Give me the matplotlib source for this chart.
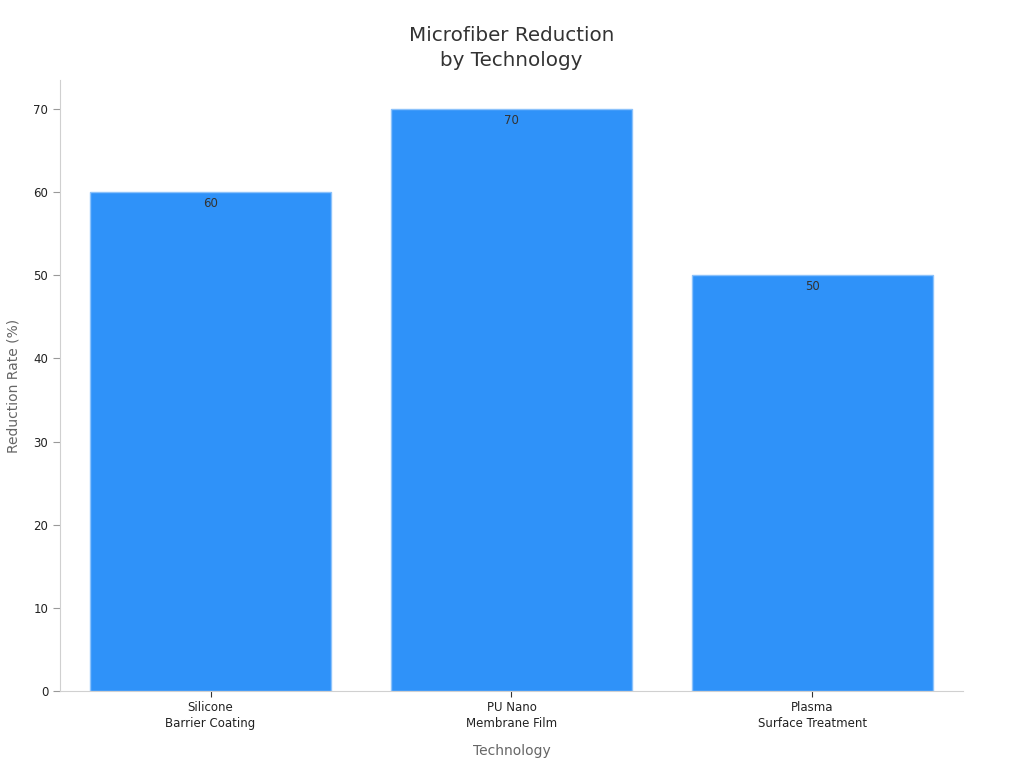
import matplotlib
matplotlib.use('Agg')
import matplotlib.pyplot as plt

categories = ['Silicone\nBarrier Coating', 'PU Nano\nMembrane Film', 'Plasma\nSurface Treatment']
reduction = [60, 70, 50]

fig = plt.figure(figsize=(10.24, 7.68), dpi=100)
ax = fig.add_axes([0.0586, 0.1003, 0.8818, 0.7955])

x = range(len(categories))
bars = ax.bar(x, reduction, width=0.8, color='#2f92f9', edgecolor='#8cc2fb', linewidth=1)

# value labels just inside the top of each bar
for b, v in zip(bars, reduction):
    ax.text(b.get_x() + b.get_width() / 2, v - 0.6, str(v), ha='center', va='top',
            fontsize=8.5, color='#333333')

ax.set_xlim(-0.5, 2.5)
ax.set_ylim(0, 73.5)
ax.set_xticks(list(x))
ax.set_xticklabels(categories, fontsize=8.5, color='#222222', linespacing=1.3)
ax.set_yticks(range(0, 71, 10))
ax.tick_params(axis='y', labelsize=8.5, labelcolor='#222222', color='#999999', length=5)
ax.tick_params(axis='x', color='#333333', length=4)

for s in ['top', 'right']:
    ax.spines[s].set_visible(False)
for s in ['left', 'bottom']:
    ax.spines[s].set_color('#d0d0d0')

ax.set_xlabel('Technology', fontsize=10, color='#666666', labelpad=10)
ax.set_ylabel('Reduction Rate (%)', fontsize=10, color='#666666', labelpad=9)
ax.set_title('Microfiber Reduction\nby Technology', fontsize=14.3, color='#333333',
             pad=10, linespacing=1.4)

fig.savefig('out.png', dpi=100)
